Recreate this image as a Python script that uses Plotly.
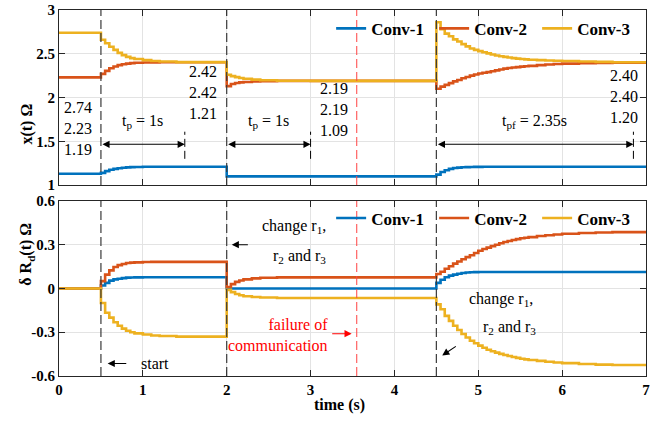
import plotly.graph_objects as go

# ---------------- data ----------------
NAMES = ["Conv-1", "Conv-2", "Conv-3"]
COLORS = ["#0072BD", "#D95319", "#EDB120"]

T = [0, 0.5, 0.55, 0.6, 0.65, 0.7, 0.75, 0.8, 0.85, 0.9, 1.0, 1.1, 1.2, 1.4,
     2.0, 2.05, 2.1, 2.15, 2.2, 2.3, 2.4, 2.6, 3.0,
     4.5, 4.55, 4.6, 4.65, 4.7, 4.75, 4.8, 4.85, 4.9, 4.95, 5.0, 5.05, 5.1, 5.15, 5.2, 5.25,
     5.3, 5.35, 5.4, 5.45, 5.5, 5.55, 5.6, 5.7, 5.8, 5.9, 6.0, 6.2, 6.4, 6.6, 7.0]

# x(t) in Ohm
X_CONV1 = [1.13, 1.14, 1.16, 1.175, 1.185, 1.193, 1.198, 1.202, 1.205, 1.207, 1.209, 1.21, 1.21, 1.21,
           1.10, 1.10, 1.10, 1.10, 1.10, 1.10, 1.10, 1.10, 1.10,
           1.12, 1.15, 1.17, 1.185, 1.195, 1.2, 1.203, 1.205, 1.207, 1.208, 1.208, 1.209, 1.209, 1.21, 1.21, 1.21,
           1.21, 1.21, 1.21, 1.21, 1.21, 1.21, 1.21, 1.21, 1.21, 1.21, 1.21, 1.21, 1.21, 1.21, 1.21]
X_CONV2 = [2.23, 2.27, 2.305, 2.335, 2.355, 2.37, 2.38, 2.388, 2.393, 2.397, 2.40, 2.402, 2.403, 2.403,
           2.13, 2.155, 2.166, 2.173, 2.178, 2.184, 2.187, 2.19, 2.19,
           2.10, 2.125, 2.145, 2.165, 2.185, 2.20, 2.22, 2.235, 2.25, 2.263, 2.275, 2.283, 2.29, 2.30, 2.31, 2.32,
           2.33, 2.337, 2.343, 2.348, 2.353, 2.358, 2.362, 2.37, 2.377, 2.383, 2.388, 2.393, 2.396, 2.398, 2.40]
X_CONV3 = [2.74, 2.66, 2.62, 2.58, 2.545, 2.51, 2.485, 2.465, 2.45, 2.44, 2.427, 2.418, 2.412, 2.405,
           2.26, 2.245, 2.233, 2.223, 2.215, 2.205, 2.198, 2.192, 2.19,
           2.86, 2.78, 2.73, 2.70, 2.665, 2.64, 2.61, 2.585, 2.56, 2.545, 2.53, 2.517, 2.505, 2.492, 2.48, 2.472,
           2.465, 2.457, 2.45, 2.445, 2.44, 2.436, 2.432, 2.428, 2.424, 2.421, 2.418, 2.412, 2.407, 2.404, 2.40]

# delta R_d(t) in Ohm
D_CONV1 = [0, 0.02, 0.038, 0.054, 0.062, 0.067, 0.071, 0.074, 0.075, 0.076, 0.077, 0.077, 0.077, 0.077,
           0.0, 0.0, 0.0, 0.0, 0.0, 0.0, 0.0, 0.0, 0.0,
           0.038, 0.06, 0.077, 0.088, 0.095, 0.101, 0.106, 0.109, 0.111, 0.112, 0.113, 0.113, 0.113, 0.113, 0.113, 0.113,
           0.113, 0.113, 0.113, 0.113, 0.113, 0.113, 0.113, 0.113, 0.113, 0.113, 0.113, 0.113, 0.113, 0.113, 0.113]
D_CONV2 = [0, 0.05, 0.095, 0.124, 0.147, 0.16, 0.168, 0.174, 0.177, 0.179, 0.181, 0.182, 0.182, 0.182,
           0.01, 0.03, 0.045, 0.055, 0.062, 0.069, 0.073, 0.076, 0.076,
           0.099, 0.115, 0.135, 0.152, 0.17, 0.185, 0.20, 0.215, 0.228, 0.243, 0.258, 0.27, 0.28, 0.29, 0.30, 0.31,
           0.318, 0.325, 0.332, 0.338, 0.344, 0.348, 0.352, 0.359, 0.365, 0.37, 0.375, 0.38, 0.384, 0.386, 0.389]
D_CONV3 = [0, -0.10, -0.166, -0.20, -0.232, -0.256, -0.275, -0.29, -0.30, -0.308, -0.316, -0.322, -0.326, -0.33,
           -0.01, -0.025, -0.038, -0.047, -0.053, -0.059, -0.062, -0.065, -0.065,
           -0.109, -0.143, -0.188, -0.222, -0.256, -0.285, -0.312, -0.336, -0.358, -0.376, -0.392, -0.406, -0.42,
           -0.43, -0.44, -0.448, -0.456, -0.463, -0.47, -0.476, -0.482, -0.486, -0.49, -0.496, -0.502, -0.507,
           -0.512, -0.518, -0.522, -0.525, -0.527]

EVENTS = [0.5, 2.0, 4.5]          # start / parameter changes
FAILURE_T = 3.55                  # communication failure
DURATIONS = [1.0, 1.0, 2.35]      # t_p, t_p, t_pf
DUR_LABELS = ["t<sub>p</sub> = 1s", "t<sub>p</sub> = 1s", "t<sub>pf</sub> = 2.35s"]
VALUE_LABELS = ["2.74<br>2.23<br>1.19", "2.42<br>2.42<br>1.21", "2.19<br>2.19<br>1.09", "2.40<br>2.40<br>1.20"]

X_TICKS = [0, 1, 2, 3, 4, 5, 6, 7]
Y1_TICKS = [1, 1.5, 2, 2.5, 3]
Y1_TEXT = ["1", "1.5", "2", "2.5", "3"]
Y2_TICKS = [-0.6, -0.3, 0, 0.3, 0.6]
Y2_TEXT = ["-0.6", "-0.3", "0", "0.3", "0.6"]

# ---------------- figure ----------------
FONT = "Liberation Serif"
AXC = "#262626"
GRID = "#E3E3E3"

fig = go.Figure()
for name, col, ys in zip(NAMES, COLORS, [X_CONV1, X_CONV2, X_CONV3]):
    fig.add_trace(go.Scatter(x=T, y=ys, mode="lines", name=name,
                             line=dict(color=col, width=2.6, shape="hv"),
                             xaxis="x", yaxis="y", legend="legend"))
for name, col, ys in zip(NAMES, COLORS, [D_CONV1, D_CONV2, D_CONV3]):
    fig.add_trace(go.Scatter(x=T, y=ys, mode="lines", name=name,
                             line=dict(color=col, width=2.6, shape="hv"),
                             xaxis="x2", yaxis="y2", legend="legend2"))

tickfont = dict(family=FONT, size=15, color="#000", weight="bold")
common_ax = dict(showline=True, linecolor=AXC, linewidth=1, mirror="ticks",
                 ticks="inside", ticklen=6, tickcolor=AXC, showgrid=True,
                 gridcolor=GRID, gridwidth=1, zeroline=False, tickfont=tickfont,
                 ticklabeloverflow="allow")

TOP_DOM = [0.5216, 1.0]
BOT_DOM = [0.0, 0.4784]

legend_common = dict(orientation="h", xanchor="right", yanchor="middle",
                     bgcolor="rgba(0,0,0,0)", font=dict(family=FONT, size=17, weight="bold"),
                     entrywidth=58, entrywidthmode="pixels", itemwidth=30)

fig.update_layout(
    width=652, height=421,
    margin=dict(l=59, r=2, t=6, b=45),
    paper_bgcolor="white", plot_bgcolor="white",
    font=dict(family=FONT, color="#000"),
    xaxis=dict(domain=[0, 1], anchor="y", range=[0, 7], tickvals=X_TICKS,
               showticklabels=False, **common_ax),
    yaxis=dict(domain=TOP_DOM, anchor="x", range=[1, 3], tickvals=Y1_TICKS,
               ticktext=Y1_TEXT, **common_ax),
    xaxis2=dict(domain=[0, 1], anchor="y2", range=[0, 7], tickvals=X_TICKS,
                ticktext=[str(v) for v in X_TICKS], **common_ax),
    yaxis2=dict(domain=BOT_DOM, anchor="x2", range=[-0.6, 0.6], tickvals=Y2_TICKS,
                ticktext=Y2_TEXT, **common_ax),
    legend=dict(x=0.99, y=0.9486, **legend_common),
    legend2=dict(x=0.99, y=0.4305, **legend_common),
    showlegend=True,
)

# vertical event lines
for e in EVENTS:
    for xr, yr in [("x", "y domain"), ("x2", "y2 domain")]:
        fig.add_shape(type="line", xref=xr, yref=yr, x0=e, x1=e, y0=0, y1=1,
                      line=dict(color="#3a3a3a", width=1.2, dash="9px,4px"), layer="above")
for xr, yr in [("x", "y domain"), ("x2", "y2 domain")]:
    fig.add_shape(type="line", xref=xr, yref=yr, x0=FAILURE_T, x1=FAILURE_T, y0=0, y1=1,
                  line=dict(color="rgba(255,70,70,0.85)", width=1.2, dash="9px,4px"), layer="above")

ann_font = dict(family=FONT, size=16, color="#000")

# duration arrows (top panel)
ARROW_Y = 1.466
for e, d, lab in zip(EVENTS, DURATIONS, DUR_LABELS):
    fig.add_annotation(x=e + d, y=ARROW_Y, ax=e, ay=ARROW_Y, xref="x", yref="y",
                       axref="x", ayref="y", text="", showarrow=True,
                       arrowhead=2, startarrowhead=2, arrowside="end+start",
                       arrowsize=1.3, startarrowsize=1.3, arrowwidth=1.1, arrowcolor="#000")
    fig.add_shape(type="line", xref="x", yref="y", x0=e + d, x1=e + d, y0=1.30, y1=1.61,
                  line=dict(color="#000", width=1, dash="8px,4px"))
    fig.add_annotation(x=e + d / 2, y=1.73, xref="x", yref="y", text=lab,
                       showarrow=False, font=ann_font)

# value labels (top panel)
for (xv, yv, anc), lab in zip([(0.03, 1.65, "left"), (1.72, 2.057, "center"),
                               (3.28, 1.862, "center"), (6.74, 2.01, "center")], VALUE_LABELS):
    fig.add_annotation(x=xv, y=yv, xref="x", yref="y", text=lab, showarrow=False,
                       xanchor=anc, align="left", font=ann_font)

# bottom panel annotations
fig.add_annotation(x=3.21, y=0.425, xref="x2", yref="y2", text="change r<sub>1</sub>,",
                   showarrow=False, xanchor="right", font=ann_font)
fig.add_annotation(x=3.21, y=0.222, xref="x2", yref="y2", text="r<sub>2</sub> and r<sub>3</sub>",
                   showarrow=False, xanchor="right", font=ann_font)
fig.add_annotation(x=2.06, y=0.30, ax=2.27, ay=0.30, xref="x2", yref="y2", axref="x2", ayref="y2",
                   text="", showarrow=True, arrowhead=2, arrowsize=1.3, arrowwidth=1.1, arrowcolor="#000")

fig.add_annotation(x=3.23, y=-0.32, xref="x2", yref="y2",
                   text="failure of<br>communication", showarrow=False, xanchor="right",
                   align="right", font=dict(family=FONT, size=16, color="#FF0000"))
fig.add_annotation(x=3.49, y=-0.31, ax=3.24, ay=-0.31, xref="x2", yref="y2", axref="x2", ayref="y2",
                   text="", showarrow=True, arrowhead=2, arrowsize=1.3, arrowwidth=1.1,
                   arrowcolor="#FF0000")

fig.add_annotation(x=1.15, y=-0.514, xref="x2", yref="y2", text="start",
                   showarrow=False, font=ann_font)
fig.add_annotation(x=0.58, y=-0.514, ax=0.82, ay=-0.514, xref="x2", yref="y2", axref="x2", ayref="y2",
                   text="", showarrow=True, arrowhead=2, arrowsize=1.3, arrowwidth=1.1, arrowcolor="#000")

fig.add_annotation(x=5.266, y=-0.073, xref="x2", yref="y2", text="change r<sub>1</sub>,",
                   showarrow=False, font=ann_font)
fig.add_annotation(x=5.37, y=-0.267, xref="x2", yref="y2", text="r<sub>2</sub> and r<sub>3</sub>",
                   showarrow=False, font=ann_font)
fig.add_annotation(x=4.57, y=-0.46, ax=4.75, ay=-0.39, xref="x2", yref="y2", axref="x2", ayref="y2",
                   text="", showarrow=True, arrowhead=2, arrowsize=1.3, arrowwidth=1.1, arrowcolor="#000")

# axis titles
title_font = dict(family=FONT, size=16, color="#000", weight="bold")
fig.add_annotation(x=-0.074, y=0.75, xref="paper", yref="paper", text="x(t) Ω",
                   textangle=-90, showarrow=False, font=title_font)
fig.add_annotation(x=-0.074, y=0.24, xref="paper", yref="paper", text="δ R<sub>d</sub>(t) Ω",
                   textangle=-90, showarrow=False, font=title_font)
fig.add_annotation(x=0.478, y=-0.078, xref="paper", yref="paper", text="time (s)",
                   showarrow=False, yanchor="middle", font=title_font)

fig.write_html("out.html")
